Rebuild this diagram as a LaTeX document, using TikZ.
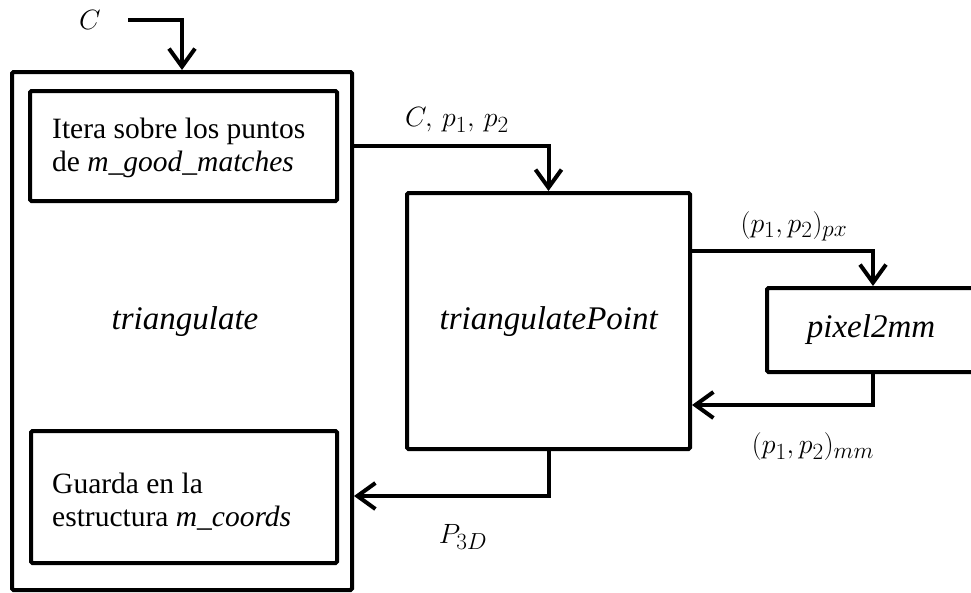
\documentclass[tikz,border=0pt]{standalone}
\usepackage{fontspec}
\setmainfont{Liberation Serif}
\DeclareMathSizes{25}{25}{20.74}{17.28}
\usetikzlibrary{arrows.meta}
\begin{document}
\begin{tikzpicture}[x=1pt,y=-1pt,
  box/.style={draw, line width=4pt, rounded corners=1.5pt, inner sep=0pt, rectangle},
  arr/.style={line width=4pt, -{Straight Barb[length=18pt,width=26pt,line width=4pt]}},
  lbl/.style={inner sep=0pt, font=\fontsize{25}{30}\selectfont, scale=1.12, transform shape},
  txt/.style={inner sep=0pt, align=left, font=\fontsize{29.5}{33}\selectfont},
  ctxt/.style={inner sep=0pt, font=\fontsize{33}{38}\selectfont}]
\useasboundingbox (0,0) rectangle (971,592);
% boxes
\node[box, minimum width=340pt, minimum height=518pt] (outer) at (182,331) {};
\node[box, minimum width=307pt, minimum height=110pt] (top) at (183.5,146) {};
\node[box, minimum width=306pt, minimum height=132pt] (bot) at (184,497) {};
\node[box, minimum width=283pt, minimum height=256pt] (tp) at (548.5,321) {};
\node[box, minimum width=212pt, minimum height=84pt] (pm) at (873,330) {};
% texts
\node[txt, anchor=west] (ttop) at (52,148) {Itera sobre los puntos\\de \textit{m\_good\_matches}};
\node[txt, anchor=west] (tbot) at (52,502) {Guarda en la\\estructura \textit{m\_coords}};
\node[ctxt] (ttri) at (185,322) {\textit{triangulate}};
\node[ctxt] (ttp) at (549,322) {\textit{triangulatePoint}};
\node[ctxt] (tpm) at (871,330) {\textit{pixel2mm}};
% labels
\node[lbl] (lc) at (90,20) {$C$};
\node[lbl] (lcpp) at (457,120) {$C,\,p_1,\,p_2$};
\node[lbl] (lpx) at (794,226) {$(p_1,p_2)_{px}$};
\node[lbl] (lmm) at (813,447) {$(p_1,p_2)_{mm}$};
\node[lbl] (lp3) at (463,537) {$P_{3D}$};
% connectors
\coordinate (cs) at (128,20);
\coordinate (ypx) at (0,251);
\coordinate (ymm) at (0,405);
\coordinate (yp3) at (0,496);
\draw[arr] (cs) -| (outer.north);
\draw[arr] (outer.east |- top.east) -| (tp.north);
\draw[arr] (tp.east |- ypx) -| (pm.north);
\draw[arr] (pm.south) |- (tp.east |- ymm);
\draw[arr] (tp.south) |- (outer.east |- yp3);
\end{tikzpicture}
\end{document}
